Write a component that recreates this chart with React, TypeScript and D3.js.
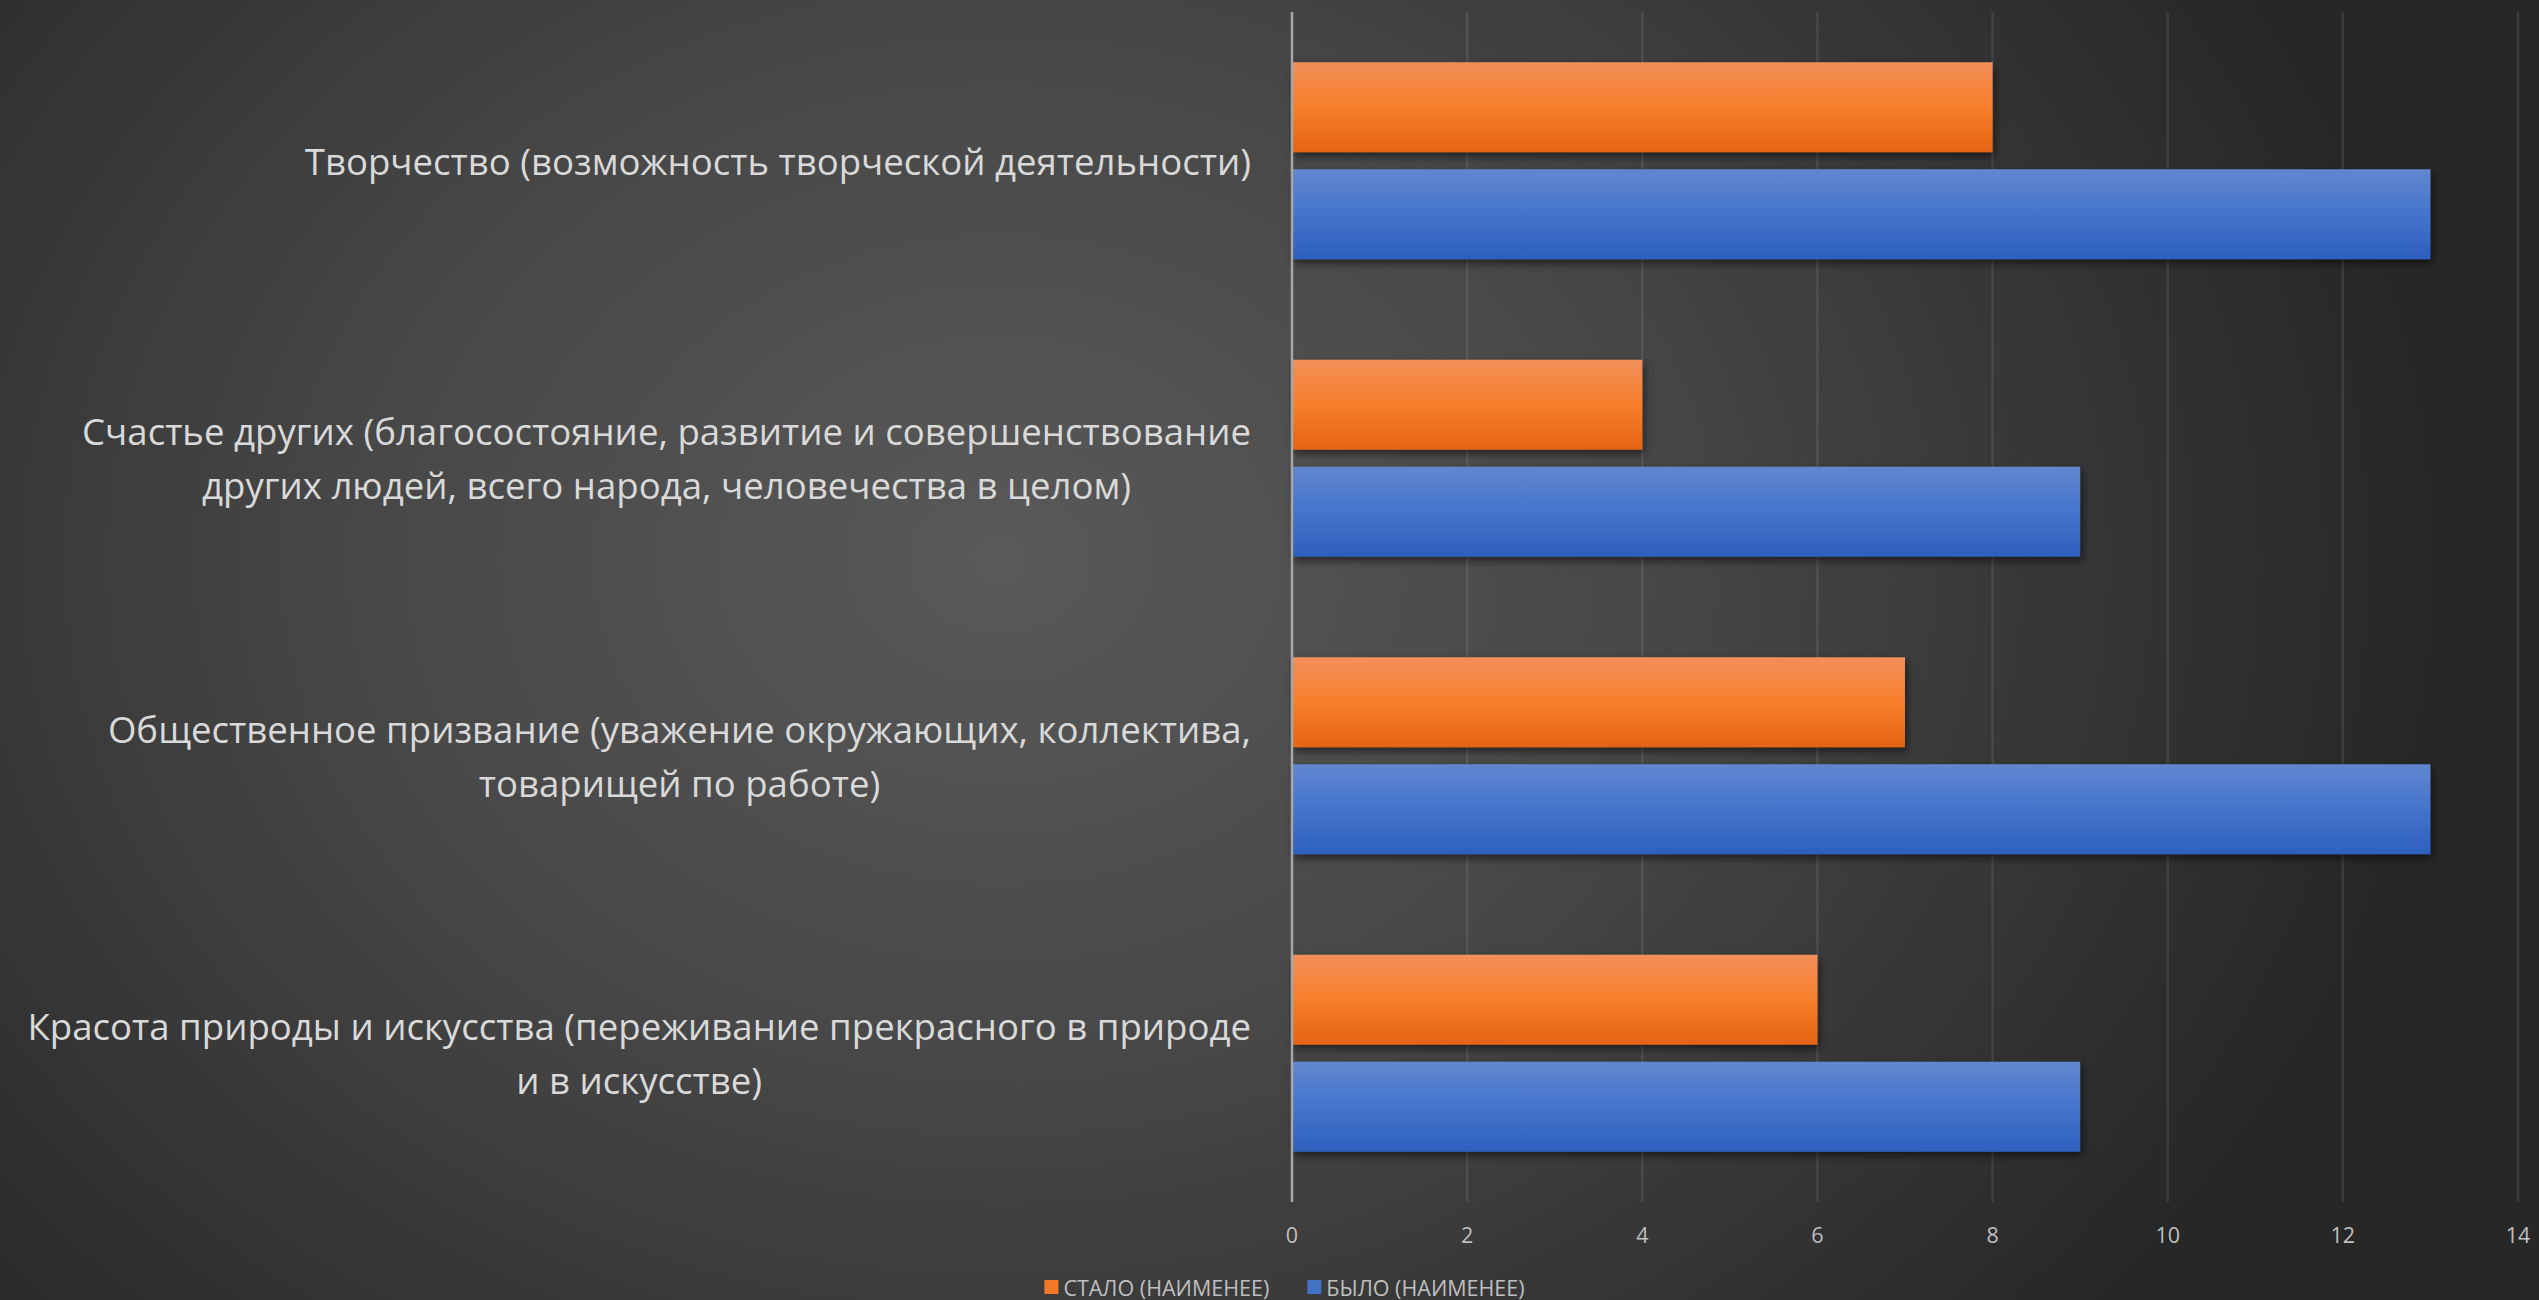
import React from "react";
import * as d3 from "d3";

const categories: string[] = [
  "Творчество (возможность творческой деятельности)",
  "Счастье других (благосостояние, развитие и совершенствование|других людей, всего народа, человечества в целом)",
  "Общественное призвание (уважение окружающих, коллектива,|товарищей по работе)",
  "Красота природы и искусства (переживание прекрасного в природе|и в искусстве)",
];
const seriesNames: string[] = ["СТАЛО (НАИМЕНЕЕ)", "БЫЛО (НАИМЕНЕЕ)"];
const staloValues: number[] = [8, 4, 7, 6];
const byloValues: number[] = [13, 9, 13, 9];
const xTicks: number[] = [0, 2, 4, 6, 8, 10, 12, 14];

const W = 2539;
const H = 1300;
const FONT = "'Open Sans', 'Noto Sans', sans-serif";

let canvasCtx: CanvasRenderingContext2D | null = null;
function measure(text: string, size: number): number {
  if (!canvasCtx) canvasCtx = document.createElement("canvas").getContext("2d");
  if (!canvasCtx) return text.length * size * 0.5;
  canvasCtx.font = `${size}px 'Open Sans'`;
  return canvasCtx.measureText(text).width;
}

export default function App() {
  React.useEffect(() => {
    document.body.style.margin = "0";
    document.body.style.background = "#2a2a2a";
  }, []);

  const x = d3.scaleLinear().domain([0, 14]).range([1292, 2518]);
  const y = d3.scaleBand<string>().domain(categories).range([12, 1202]).padding(0);
  const inner = d3
    .scaleBand<string>()
    .domain(seriesNames)
    .range([-98.5, 98.5])
    .paddingInner(0.159)
    .paddingOuter(0);

  const seriesData = [
    { name: seriesNames[0], values: staloValues, grad: "gOrange" },
    { name: seriesNames[1], values: byloValues, grad: "gBlue" },
  ];

  const labelSize = 36.6;
  const lineH = 54;
  const labelRight = 1251;

  // legend layout
  const legendSize = 21.5;
  const sq = 14;
  const w0 = measure(seriesNames[0], legendSize);
  const w1 = measure(seriesNames[1], legendSize);
  const legendTotal = sq + 5 + w0 + 38 + sq + 6 + w1;
  const legendStart = 1285 - legendTotal / 2;
  const legendY = 1287;
  const legendItems = [
    { name: seriesNames[0], x: legendStart, color: "#f07a2a" },
    { name: seriesNames[1], x: legendStart + sq + 5 + w0 + 38, color: "#4472c4" },
  ];

  return (
    <svg width={W} height={H} style={{ display: "block" }} xmlns="http://www.w3.org/2000/svg">
      <defs>
        <radialGradient id="bg" gradientUnits="userSpaceOnUse" cx={1000} cy={560} r={1150} gradientTransform="translate(1000 560) scale(1.25 1) translate(-1000 -560)">
          <stop offset="0" stopColor="#595959" />
          <stop offset="0.45" stopColor="#474747" />
          <stop offset="1" stopColor="#272727" />
        </radialGradient>
        <linearGradient id="gOrange" x1="0" y1="0" x2="0" y2="1">
          <stop offset="0" stopColor="#f28f5a" />
          <stop offset="0.5" stopColor="#f77e2b" />
          <stop offset="1" stopColor="#e46413" />
        </linearGradient>
        <linearGradient id="gBlue" x1="0" y1="0" x2="0" y2="1">
          <stop offset="0" stopColor="#6287d0" />
          <stop offset="0.5" stopColor="#4474cc" />
          <stop offset="1" stopColor="#2d5fbd" />
        </linearGradient>
        <filter id="shadow" x="-5%" y="-20%" width="110%" height="150%">
          <feDropShadow dx="2" dy="4" stdDeviation="4" floodColor="#000" floodOpacity="0.55" />
        </filter>
      </defs>
      <rect x={0} y={0} width={W} height={H} fill="url(#bg)" />

      {/* gridlines */}
      {xTicks.slice(1).map((t) => (
        <line key={t} x1={x(t)} x2={x(t)} y1={y.range()[0]} y2={y.range()[1]} stroke="#ffffff" strokeOpacity={0.09} strokeWidth={2.5} />
      ))}

      {/* bars */}
      {seriesData.map((s) => (
        <g key={s.name}>
          {categories.map((c, i) => (
            <rect
              key={c}
              x={x(0)}
              y={(y(c) as number) + y.bandwidth() / 2 + (inner(s.name) as number)}
              width={x(s.values[i]) - x(0)}
              height={inner.bandwidth()}
              fill={`url(#${s.grad})`}
              filter="url(#shadow)"
            />
          ))}
        </g>
      ))}

      {/* zero axis line */}
      <line x1={x(0)} x2={x(0)} y1={y.range()[0]} y2={y.range()[1]} stroke="#a6a6a6" strokeWidth={2.5} />

      {/* tick labels */}
      {xTicks.map((t) => (
        <text key={t} x={x(t)} y={1234} textAnchor="middle" dominantBaseline="central" fontFamily={FONT} fontSize={21.5} fill="#bfbfbf">
          {t}
        </text>
      ))}

      {/* category labels */}
      {categories.map((c) => {
        const lines = c.split("|");
        const maxW = Math.max(...lines.map((l) => measure(l, labelSize)));
        const cx = labelRight - maxW / 2;
        const cy = (y(c) as number) + y.bandwidth() / 2;
        const y0 = cy - ((lines.length - 1) * lineH) / 2;
        return (
          <text key={c} fontFamily={FONT} fontSize={labelSize} fill="#d9d9d9" textAnchor="middle" dominantBaseline="central">
            {lines.map((l, k) => (
              <tspan key={k} x={cx} y={y0 + k * lineH}>
                {l}
              </tspan>
            ))}
          </text>
        );
      })}

      {/* legend */}
      {legendItems.map((it) => (
        <g key={it.name}>
          <rect x={it.x} y={legendY - sq / 2} width={sq} height={sq} fill={it.color} />
          <text x={it.x + sq + 5} y={legendY} dominantBaseline="central" fontFamily={FONT} fontSize={legendSize} fill="#bfbfbf">
            {it.name}
          </text>
        </g>
      ))}
    </svg>
  );
}
